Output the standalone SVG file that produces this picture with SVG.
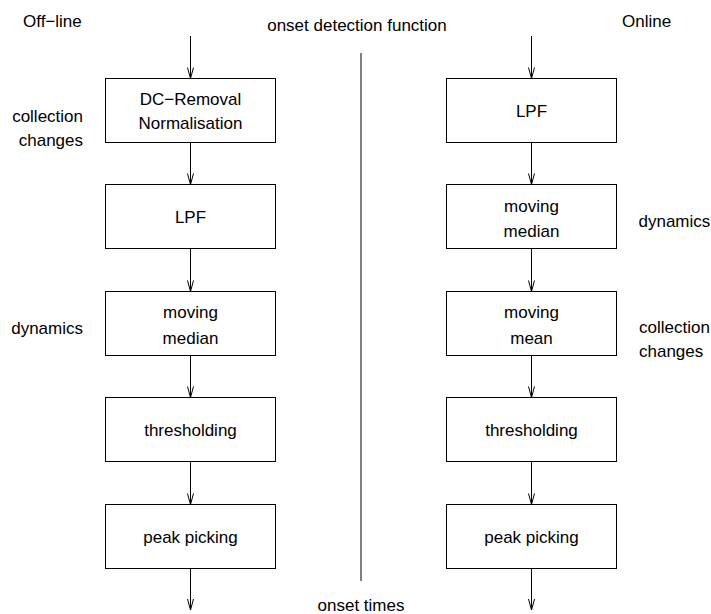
<svg xmlns="http://www.w3.org/2000/svg" width="711" height="614" viewBox="0 0 711 614">
<style>
text{font-family:"Liberation Sans",Arial,sans-serif;font-size:17px;fill:#000}
.c{text-anchor:middle}
.e{text-anchor:end}
.box{fill:#fff;stroke:#000;stroke-width:1}
.ln{stroke:#000;stroke-width:1;fill:none}
</style>
<defs>
<marker id="ah" markerUnits="userSpaceOnUse" markerWidth="14" markerHeight="8" refX="12" refY="4" orient="auto" viewBox="0 0 14 8">
<path d="M1,1 L12,4 L1,7" fill="none" stroke="#000" stroke-width="1"/>
</marker>
</defs>
<rect width="711" height="614" fill="#fff"/>
<g id="labels">
<text x="23" y="27">Off−line</text>
<text x="622" y="27">Online</text>
<text class="c" x="357" y="31">onset detection function</text>
<text class="e" x="83" y="121.5">collection</text>
<text class="e" x="83" y="145.5">changes</text>
<text class="e" x="83" y="334">dynamics</text>
<text x="638.5" y="227">dynamics</text>
<text x="639" y="333">collection</text>
<text x="639" y="357">changes</text>
<text class="c" x="361" y="611">onset times</text>
</g>
<g id="connectors">
<line class="ln" x1="361" y1="53" x2="361" y2="581"/>
<g transform="translate(190.5,0)">
<line class="ln" x1="0" y1="36" x2="0" y2="78.5" marker-end="url(#ah)"/>
<line class="ln" x1="0" y1="142.5" x2="0" y2="184.5" marker-end="url(#ah)"/>
<line class="ln" x1="0" y1="248.5" x2="0" y2="291.5" marker-end="url(#ah)"/>
<line class="ln" x1="0" y1="355.5" x2="0" y2="397.5" marker-end="url(#ah)"/>
<line class="ln" x1="0" y1="461.5" x2="0" y2="504.5" marker-end="url(#ah)"/>
<line class="ln" x1="0" y1="568.5" x2="0" y2="610" marker-end="url(#ah)"/>
</g>
<g transform="translate(531.5,0)">
<line class="ln" x1="0" y1="36" x2="0" y2="78.5" marker-end="url(#ah)"/>
<line class="ln" x1="0" y1="142.5" x2="0" y2="184.5" marker-end="url(#ah)"/>
<line class="ln" x1="0" y1="248.5" x2="0" y2="291.5" marker-end="url(#ah)"/>
<line class="ln" x1="0" y1="355.5" x2="0" y2="397.5" marker-end="url(#ah)"/>
<line class="ln" x1="0" y1="461.5" x2="0" y2="504.5" marker-end="url(#ah)"/>
<line class="ln" x1="0" y1="568.5" x2="0" y2="610" marker-end="url(#ah)"/>
</g>
</g>
<g id="L1"><rect class="box" x="105.5" y="78.5" width="170" height="64"/><text class="c" x="190.5" y="104.5">DC−Removal</text><text class="c" x="190.5" y="129">Normalisation</text></g>
<g id="L2"><rect class="box" x="105.5" y="184.5" width="170" height="64"/><text class="c" x="190.5" y="223">LPF</text></g>
<g id="L3"><rect class="box" x="105.5" y="291.5" width="170" height="64"/><text class="c" x="190.5" y="318">moving</text><text class="c" x="190.5" y="343.5">median</text></g>
<g id="L4"><rect class="box" x="105.5" y="397.5" width="170" height="64"/><text class="c" x="190.5" y="436">thresholding</text></g>
<g id="L5"><rect class="box" x="105.5" y="504.5" width="170" height="64"/><text class="c" x="190.5" y="543">peak picking</text></g>
<g id="R1"><rect class="box" x="446.5" y="78.5" width="170" height="64"/><text class="c" x="531.5" y="117">LPF</text></g>
<g id="R2"><rect class="box" x="446.5" y="184.5" width="170" height="64"/><text class="c" x="531.5" y="211.5">moving</text><text class="c" x="531.5" y="237">median</text></g>
<g id="R3"><rect class="box" x="446.5" y="291.5" width="170" height="64"/><text class="c" x="531.5" y="318">moving</text><text class="c" x="531.5" y="343.5">mean</text></g>
<g id="R4"><rect class="box" x="446.5" y="397.5" width="170" height="64"/><text class="c" x="531.5" y="436">thresholding</text></g>
<g id="R5"><rect class="box" x="446.5" y="504.5" width="170" height="64"/><text class="c" x="531.5" y="543">peak picking</text></g>
</svg>
